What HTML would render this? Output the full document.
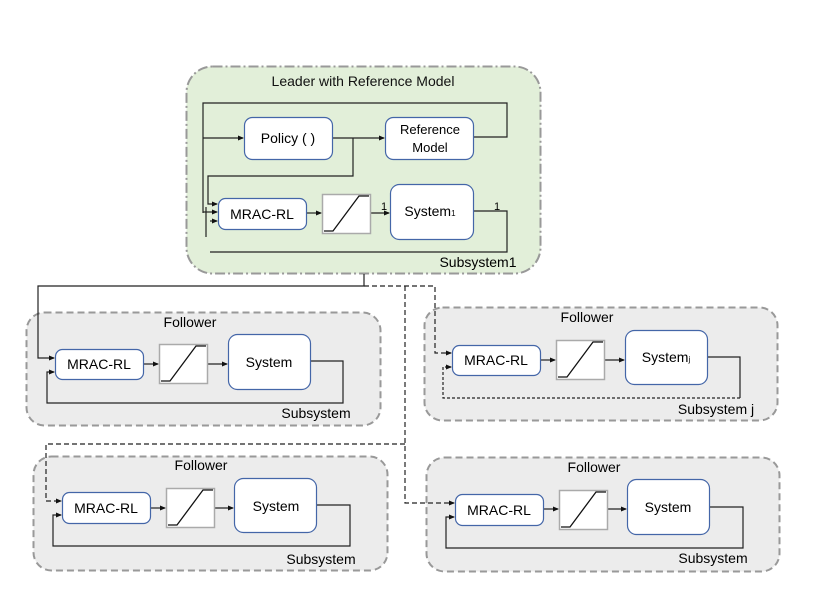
<!DOCTYPE html>
<html><head><meta charset="utf-8"><style>
html,body{margin:0;padding:0;background:#fff;}
svg{display:block;font-family:"Liberation Sans","DejaVu Sans",sans-serif;}
</style></head><body>
<svg width="830" height="613" viewBox="0 0 830 613" xmlns="http://www.w3.org/2000/svg">
<defs>
<marker id="a" markerWidth="6" markerHeight="6" refX="5" refY="3" orient="auto" markerUnits="userSpaceOnUse">
<path d="M0,0.5 L6,3 L0,5.5 z" fill="#111"/></marker>
</defs>
<!-- Leader -->
<rect x="186.5" y="66.5" width="354" height="207" rx="26" fill="#e2efd9" stroke="#999" stroke-width="2" stroke-dasharray="10,3,2,3"/>
<text x="363" y="86" font-size="14" text-anchor="middle" fill="#111">Leader with Reference Model</text>
<g fill="none" stroke="#222" stroke-width="1.2">
<path d="M203,213 V103 H507 V137 H473"/>
<path d="M203,138 H243" marker-end="url(#a)"/>
<path d="M332,138 H384" marker-end="url(#a)"/>
<path d="M353,138 V176 H208 V204 H217" marker-end="url(#a)"/>
<path d="M203,212 H217" marker-end="url(#a)"/>
<path d="M210,221 H217" marker-end="url(#a)"/>
<path d="M206,207 V237"/>
<path d="M306,213 H321" marker-end="url(#a)"/>
<path d="M370,213 H389" marker-end="url(#a)"/>
<path d="M473,211 H507 V252 H210"/>
</g>
<rect x="244.5" y="117.5" width="88" height="42" rx="8" fill="#fff" stroke="#4466a8" stroke-width="1.2"/>
<text x="288" y="143" font-size="14" text-anchor="middle">Policy (   )</text>
<rect x="385.5" y="117.5" width="88" height="42" rx="8" fill="#fff" stroke="#4466a8" stroke-width="1.2"/>
<text x="430" y="134" font-size="13" text-anchor="middle">Reference</text>
<text x="430" y="152" font-size="13" text-anchor="middle">Model</text>
<rect x="218.5" y="198.5" width="88" height="31" rx="7" fill="#fff" stroke="#4466a8" stroke-width="1.2"/>
<text x="262" y="219" font-size="14" text-anchor="middle">MRAC-RL</text>
<rect x="322.5" y="194.5" width="48" height="39" fill="#fff" stroke="#aaa" stroke-width="1.5"/>
<path d="M324,231 H333 L359,196 H369" fill="none" stroke="#111" stroke-width="1.3"/>
<rect x="390.5" y="184.5" width="83" height="55" rx="9" fill="#fff" stroke="#4466a8" stroke-width="1.2"/>
<text x="430" y="216" font-size="14" text-anchor="middle">System<tspan font-size="8">1</tspan></text>
<text x="384" y="210" font-size="11" text-anchor="middle">1</text>
<text x="497" y="210" font-size="11" text-anchor="middle">1</text>
<text x="478" y="267" font-size="14" text-anchor="middle">Subsystem1</text>

<!-- Follower top-left -->
<rect x="26.5" y="312.5" width="354" height="113" rx="18" fill="#ececec" stroke="#999" stroke-width="2" stroke-dasharray="7,4"/>
<text x="190" y="327" font-size="14" text-anchor="middle">Follower</text>
<g fill="none" stroke="#222" stroke-width="1.2">
<path d="M143,364 H158" marker-end="url(#a)"/>
<path d="M207,364 H227" marker-end="url(#a)"/>
<path d="M310,361 H343 V403 H47 V372 H54" marker-end="url(#a)"/>
</g>
<rect x="55.5" y="349.5" width="88" height="30" rx="7" fill="#fff" stroke="#4466a8" stroke-width="1.2"/>
<text x="99" y="369" font-size="14" text-anchor="middle">MRAC-RL</text>
<rect x="159.5" y="344.5" width="48" height="39" fill="#fff" stroke="#aaa" stroke-width="1.5"/>
<path d="M161,381 H170 L196,346 H206" fill="none" stroke="#111" stroke-width="1.3"/>
<rect x="228.5" y="334.5" width="82" height="55" rx="9" fill="#fff" stroke="#4466a8" stroke-width="1.2"/>
<text x="269" y="367" font-size="14" text-anchor="middle">System</text>
<text x="316" y="418" font-size="14" text-anchor="middle">Subsystem</text>

<!-- Follower bottom-left -->
<rect x="33.5" y="456.5" width="354" height="114" rx="18" fill="#ececec" stroke="#999" stroke-width="2" stroke-dasharray="7,4"/>
<text x="201" y="470" font-size="14" text-anchor="middle">Follower</text>
<g fill="none" stroke="#222" stroke-width="1.2">
<path d="M150,508 H165" marker-end="url(#a)"/>
<path d="M214,508 H233" marker-end="url(#a)"/>
<path d="M316,505 H350 V546 H53 V515 H61" marker-end="url(#a)"/>
</g>
<rect x="62.5" y="492.5" width="88" height="31" rx="7" fill="#fff" stroke="#4466a8" stroke-width="1.2"/>
<text x="106" y="513" font-size="14" text-anchor="middle">MRAC-RL</text>
<rect x="166.5" y="488.5" width="48" height="39" fill="#fff" stroke="#aaa" stroke-width="1.5"/>
<path d="M168,525 H177 L203,490 H213" fill="none" stroke="#111" stroke-width="1.3"/>
<rect x="234.5" y="478.5" width="82" height="54" rx="9" fill="#fff" stroke="#4466a8" stroke-width="1.2"/>
<text x="276" y="511" font-size="14" text-anchor="middle">System</text>
<text x="321" y="564" font-size="14" text-anchor="middle">Subsystem</text>

<!-- Follower top-right (j) -->
<rect x="424.5" y="307.5" width="353" height="113" rx="18" fill="#ececec" stroke="#999" stroke-width="2" stroke-dasharray="7,4"/>
<text x="587" y="322" font-size="14" text-anchor="middle">Follower</text>
<g fill="none" stroke="#222" stroke-width="1.2">
<path d="M540,360 H555" marker-end="url(#a)"/>
<path d="M604,360 H624" marker-end="url(#a)"/>
<path d="M707,357 H740 V398" />
<path d="M740,398 H443 V367 H451" stroke-dasharray="3,2" marker-end="url(#a)"/>
</g>
<rect x="452.5" y="345.5" width="88" height="30" rx="7" fill="#fff" stroke="#4466a8" stroke-width="1.2"/>
<text x="496" y="365" font-size="14" text-anchor="middle">MRAC-RL</text>
<rect x="556.5" y="340.5" width="48" height="39" fill="#fff" stroke="#aaa" stroke-width="1.5"/>
<path d="M558,377 H567 L593,342 H603" fill="none" stroke="#111" stroke-width="1.3"/>
<rect x="625.5" y="330.5" width="82" height="54" rx="9" fill="#fff" stroke="#4466a8" stroke-width="1.2"/>
<text x="666" y="362" font-size="14" text-anchor="middle">System<tspan font-size="8">j</tspan></text>
<text x="716" y="414" font-size="14" text-anchor="middle">Subsystem j</text>

<!-- Follower bottom-right -->
<rect x="426.5" y="457.5" width="353" height="114" rx="18" fill="#ececec" stroke="#999" stroke-width="2" stroke-dasharray="7,4"/>
<text x="594" y="472" font-size="14" text-anchor="middle">Follower</text>
<g fill="none" stroke="#222" stroke-width="1.2">
<path d="M543,509 H558" marker-end="url(#a)"/>
<path d="M607,509 H626" marker-end="url(#a)"/>
<path d="M709,507 H743 V548 H446 V517 H454" marker-end="url(#a)"/>
</g>
<rect x="455.5" y="494.5" width="88" height="31" rx="7" fill="#fff" stroke="#4466a8" stroke-width="1.2"/>
<text x="499" y="515" font-size="14" text-anchor="middle">MRAC-RL</text>
<rect x="559.5" y="490.5" width="48" height="39" fill="#fff" stroke="#aaa" stroke-width="1.5"/>
<path d="M561,527 H570 L596,492 H606" fill="none" stroke="#111" stroke-width="1.3"/>
<rect x="627.5" y="479.5" width="82" height="55" rx="9" fill="#fff" stroke="#4466a8" stroke-width="1.2"/>
<text x="668" y="512" font-size="14" text-anchor="middle">System</text>
<text x="713" y="563" font-size="14" text-anchor="middle">Subsystem</text>

<!-- connectors leader -> followers (drawn on top) -->
<g fill="none" stroke="#222" stroke-width="1.2">
<path d="M364,274 V286 H38 V358 H54" marker-end="url(#a)"/>
</g>
<g fill="none" stroke="#222" stroke-width="1.2" stroke-dasharray="5,3">
<path d="M364,286 H435 V353 H451" marker-end="url(#a)"/>
<path d="M405,286 V503 H454" marker-end="url(#a)"/>
<path d="M405,444 H46 V501 H61" marker-end="url(#a)"/>
</g>
</svg>
</body></html>
